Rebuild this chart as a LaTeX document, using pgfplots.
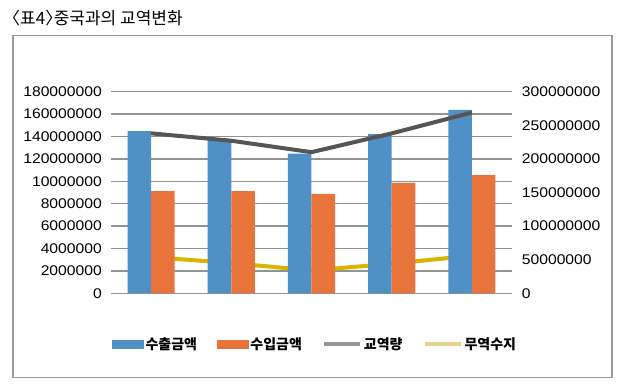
\documentclass[border=0pt]{standalone}
\usepackage{fontspec}
\setmainfont{Liberation Sans}[FakeStretch=1.12]
\newfontfamily\kr{Noto Sans CJK KR}
\usepackage{pgfplots}
\pgfplotsset{compat=1.18}
\definecolor{barblue}{HTML}{4F91C6}
\definecolor{barorange}{HTML}{E8743B}
\definecolor{linegray}{HTML}{555555}
\definecolor{lineyellow}{HTML}{D9B300}
\definecolor{leggray}{HTML}{979797}
\definecolor{legyellow}{HTML}{E8D48A}
\definecolor{gridgray}{HTML}{939393}
\definecolor{framegray}{HTML}{9A9A9A}
\pgfplotsset{base/.style={scale only axis, width=401pt, height=201.6pt,
  at={(111pt,96.7pt)}, anchor=south west, xmin=-0.5, xmax=4.5, xtick=\empty,
  scaled y ticks=false,
  axis line style={draw=none}, tick style={draw=none}, clip=false}}
\begin{document}
\begin{tikzpicture}[x=1pt,y=1pt]
\path (0,0) rectangle (622,390);
\draw[framegray, line width=1.6pt] (13,12.3) rectangle (611.7,354.3);
\node[anchor=west, inner sep=0pt, font=\kr\fontsize{17}{20}\selectfont] at (3,372) {〈표4〉\kern-0.5em 중국과의 교역변화};

% grid and left tick labels
\begin{axis}[base, ymin=0, ymax=180000000,
  ytick={0,20000000,40000000,60000000,80000000,100000000,120000000,140000000,160000000,180000000},
  yticklabels={0,2000000,4000000,6000000,8000000,10000000,120000000,140000000,160000000,180000000},
  ymajorgrids, major grid style={gridgray, line width=1.3pt},
  y tick label style={inner xsep=9pt, inner ysep=0pt, font=\fontsize{14}{14}\selectfont}]
\end{axis}

% trade balance (right scale), drawn behind the bars
\begin{axis}[base, ymin=0, ymax=300000000, hide axis]
\addplot[lineyellow, line width=4pt] coordinates {(0,54000000) (1,45000000) (2,34000000) (3,44000000) (4,56000000)};
\end{axis}

% bars (left scale)
\begin{axis}[base, ymin=0, ymax=180000000, hide axis, ybar=0pt, bar width=0.294]
\addplot[fill=barblue, draw=none] coordinates {(0,144900000) (1,137800000) (2,124600000) (3,142200000) (4,163700000)};
\addplot[fill=barorange, draw=none] coordinates {(0,91300000) (1,91300000) (2,88700000) (3,98500000) (4,105600000)};
\end{axis}

% trade volume (right scale) + right labels + legend
\begin{axis}[base, ymin=0, ymax=300000000,
  yticklabel pos=right,
  ytick={0,50000000,100000000,150000000,200000000,250000000,300000000},
  yticklabels={0,50000000,100000000,150000000,200000000,250000000,300000000},
  y tick label style={inner xsep=9.7pt, inner ysep=0pt, font=\fontsize{14}{14}\selectfont},
  legend columns=4,
  legend style={draw=none, fill=none, at={(0.509,-0.2515)}, anchor=center,
    font=\kr\bfseries\fontsize{14}{16}\selectfont,
    /tikz/every even column/.append style={column sep=18pt},
    nodes={inner xsep=2pt}},
  legend entries={수출금액,수입금액,교역량,무역수지}]
\addlegendimage{legend image code/.code={\fill[barblue] (0pt,-4pt) rectangle (31pt,4pt);}}
\addlegendimage{legend image code/.code={\fill[barorange] (0pt,-4pt) rectangle (31pt,4pt);}}
\addplot[linegray, line width=4pt, legend image code/.code={\draw[leggray, line width=4pt] (0pt,0pt) -- (36pt,0pt);}]
  coordinates {(0,238000000) (1,227000000) (2,210000000) (3,238000000) (4,269000000)};
\addlegendimage{legend image code/.code={\draw[legyellow, line width=4pt] (0pt,0pt) -- (36pt,0pt);}}
\end{axis}
\end{tikzpicture}
\end{document}
